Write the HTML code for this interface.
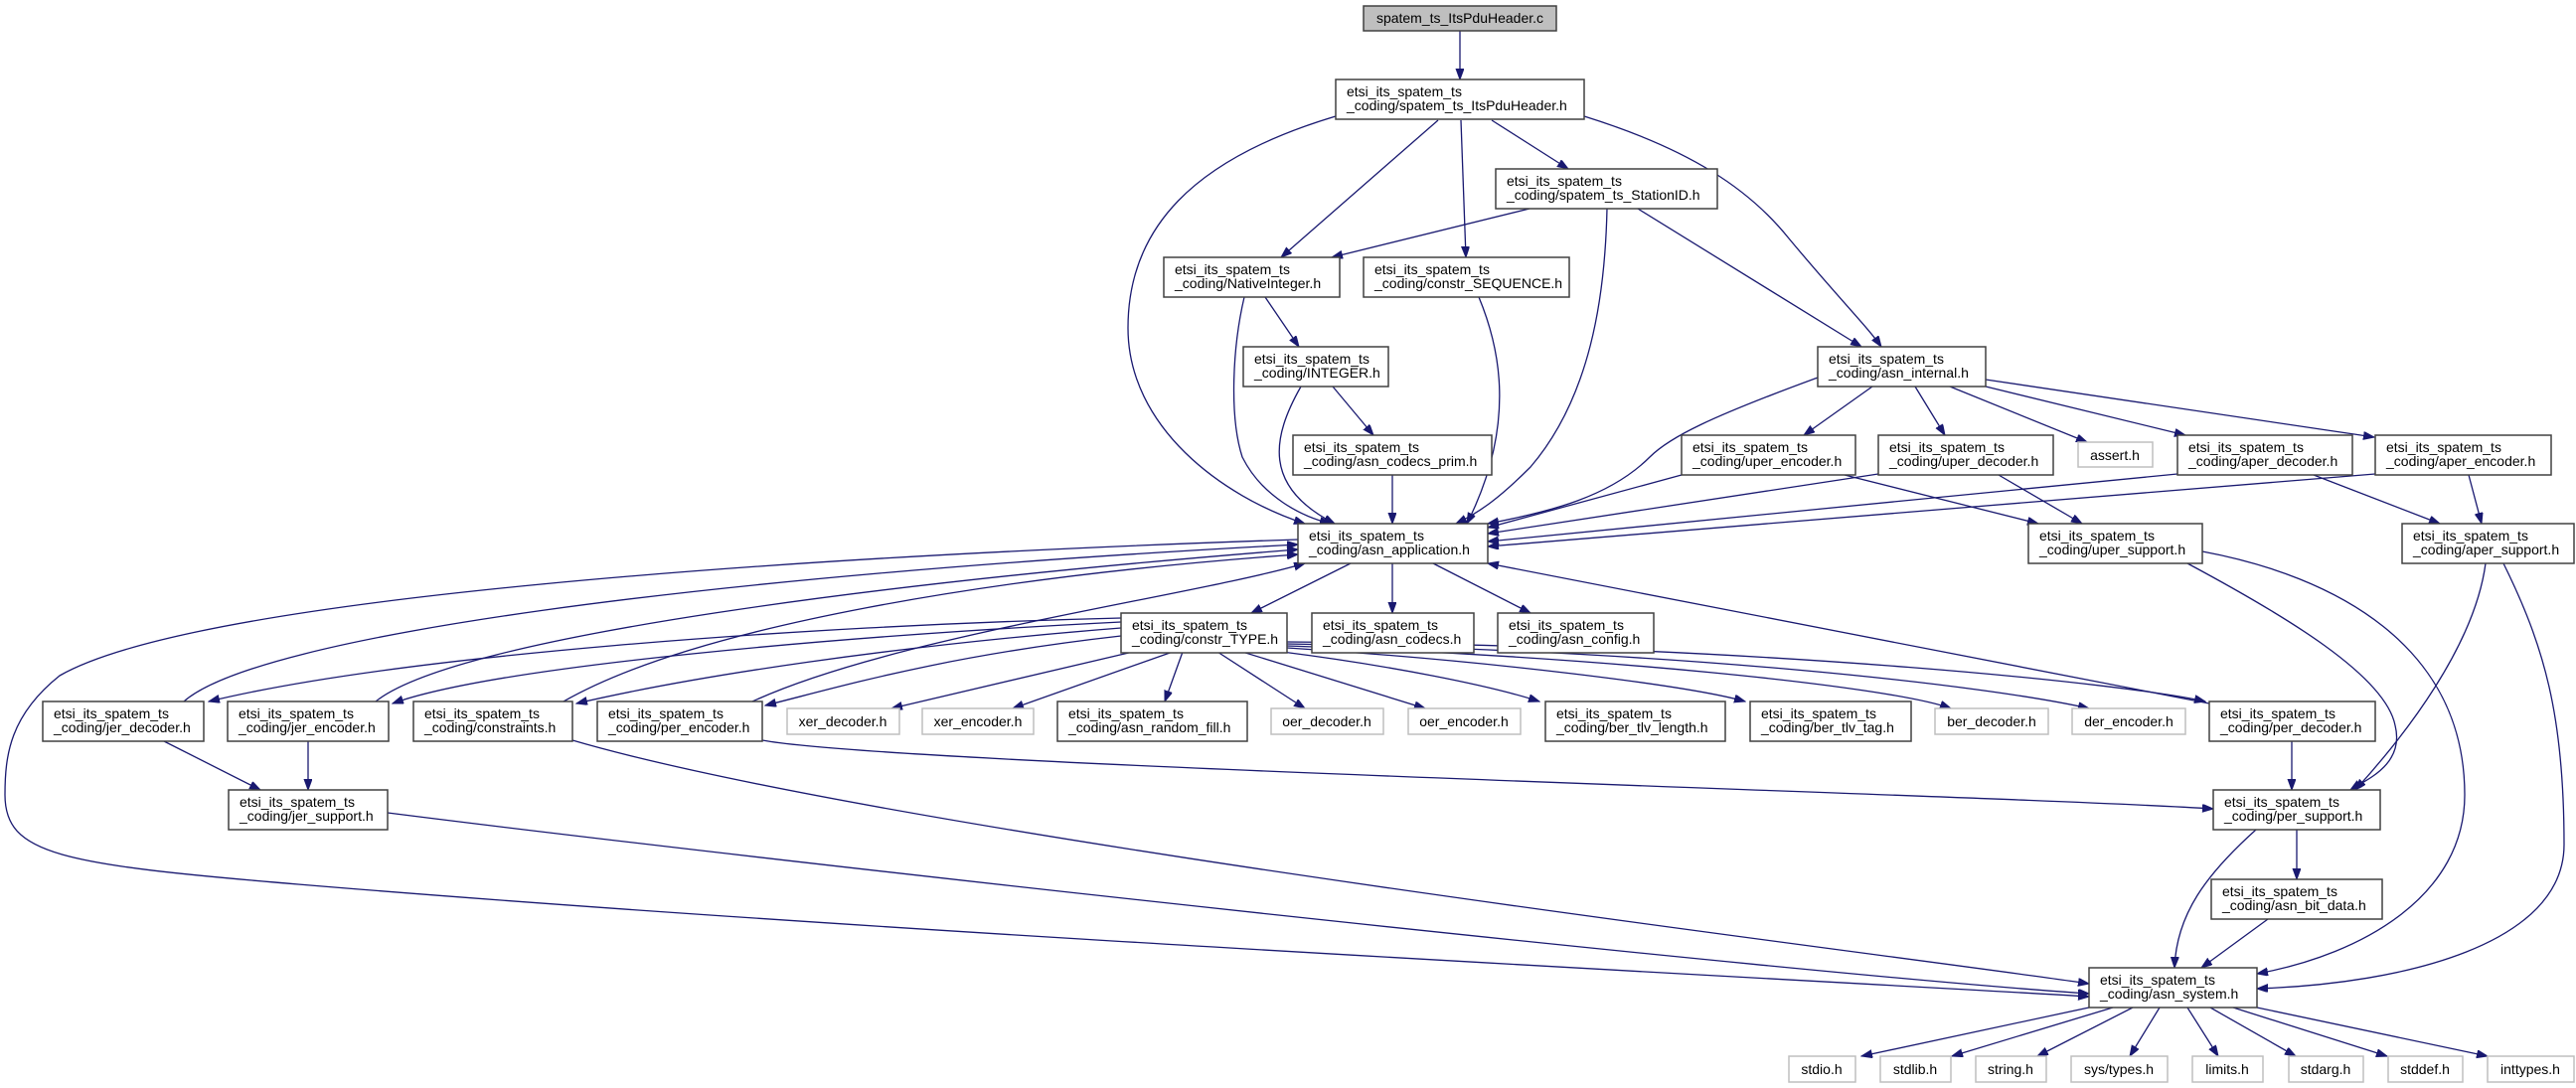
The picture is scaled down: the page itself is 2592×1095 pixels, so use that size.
<!DOCTYPE html>
<html><head><meta charset="utf-8"><style>
html,body{margin:0;padding:0;background:#fff;}
svg{display:block;}
text{font-family:"Liberation Sans",sans-serif;font-size:14px;fill:#000;}
.b{fill:#fff;stroke:#404040;stroke-width:1.5;}
.g{fill:#fff;stroke:#bfbfbf;stroke-width:1.5;}
.e{fill:none;stroke:#191970;stroke-width:1.3;}
</style></head><body>
<svg width="2592" height="1095" viewBox="0 0 2592 1095" xmlns="http://www.w3.org/2000/svg">
<defs><marker id="a" markerWidth="12" markerHeight="9" refX="11" refY="4" orient="auto" markerUnits="userSpaceOnUse"><path d="M0,0 L11,4 L0,8 z" fill="#191970" stroke="#191970"/></marker></defs>
<g class="e" marker-end="url(#a)">
<path d="M1469,31 L1469,80"/>
<path d="M1344,117 C1200,160 1135,230 1135,330 C1135,430 1230,500 1313,527"/>
<path d="M1447,121 L1289,259"/>
<path d="M1470,121 L1475,259"/>
<path d="M1501,121 L1578,170"/>
<path d="M1594,117 C1700,150 1760,190 1800,240 C1850,300 1880,330 1893,349"/>
<path d="M1539,210 L1340,259"/>
<path d="M1617,210 C1615,300 1600,400 1540,470 C1510,500 1490,515 1465,527"/>
<path d="M1648,210 L1873,349"/>
<path d="M1273,299 L1307,349"/>
<path d="M1252,299 C1240,350 1237,420 1250,460 C1270,500 1310,520 1339,527"/>
<path d="M1488,299 C1505,340 1530,420 1476,527"/>
<path d="M1341,389 L1382,438"/>
<path d="M1309,389 C1280,440 1270,490 1343,527"/>
<path d="M1401,478 L1401,527"/>
<path d="M1829,380 C1720,420 1680,440 1660,460 C1620,500 1560,515 1497,527"/>
<path d="M1884,389 L1815,438"/>
<path d="M1927,389 L1957,438"/>
<path d="M1962,389 L2100,445"/>
<path d="M1998,389 L2199,438"/>
<path d="M1998,382 L2389,440"/>
<path d="M1692,478 L1497,531"/>
<path d="M1890,477 L1497,537"/>
<path d="M2191,477 L1497,545"/>
<path d="M2390,477 L1497,550"/>
<path d="M1856,478 L2051,527"/>
<path d="M2011,478 L2095,527"/>
<path d="M2328,478 L2455,527"/>
<path d="M2484,478 L2497,527"/>
<path d="M2201,567 C2300,620 2400,680 2410,730 C2420,770 2380,785 2365,795"/>
<path d="M2216,555 C2350,580 2480,650 2480,800 C2480,900 2380,960 2271,980"/>
<path d="M2501,567 C2490,650 2420,740 2370,795"/>
<path d="M2519,567 C2560,650 2580,720 2580,850 C2580,950 2420,990 2271,995"/>
<path d="M2223,708 L1497,567"/>
<path d="M2306,746 L2306,795"/>
<path d="M2311,835 L2311,885"/>
<path d="M2270,835 C2220,880 2190,920 2188,974"/>
<path d="M2282,925 L2215,974"/>
<path d="M2102,1014 L1873,1063"/>
<path d="M2126,1014 L1964,1063"/>
<path d="M2146,1014 L2050,1063"/>
<path d="M2173,1014 L2143,1063"/>
<path d="M2201,1014 L2232,1063"/>
<path d="M2224,1014 L2310,1063"/>
<path d="M2247,1014 L2402,1063"/>
<path d="M2271,1014 L2503,1063"/>
<path d="M1359,567 L1259,617"/>
<path d="M1401,567 L1401,617"/>
<path d="M1442,567 L1540,617"/>
<path d="M1306,543 C800,560 200,600 60,680 C10,720 5,760 5,800 C5,860 60,870 300,890 C900,940 1800,985 2102,1003"/>
<path d="M1128,622 C800,630 400,660 210,706"/>
<path d="M1128,626 C850,640 500,670 395,708"/>
<path d="M1128,632 C900,650 700,680 580,708"/>
<path d="M1128,640 C950,660 850,690 770,710"/>
<path d="M1140,656 L897,713"/>
<path d="M1180,656 L1019,713"/>
<path d="M1190,656 L1172,706"/>
<path d="M1225,656 L1313,713"/>
<path d="M1250,656 L1434,713"/>
<path d="M1290,656 C1400,670 1500,690 1549,706"/>
<path d="M1295,652 C1500,665 1700,690 1756,706"/>
<path d="M1295,650 C1600,660 1900,690 1963,713"/>
<path d="M1295,648 C1700,655 2000,690 2102,713"/>
<path d="M1295,646 C1800,650 2150,690 2219,706"/>
<path d="M185,706 C260,640 700,580 1306,548"/>
<path d="M378,706 C460,640 900,585 1306,553"/>
<path d="M567,706 C700,630 1000,580 1306,558"/>
<path d="M757,706 C900,640 1200,600 1313,567"/>
<path d="M165,746 L262,795"/>
<path d="M310,746 L310,795"/>
<path d="M390,818 C800,870 1800,980 2102,1000"/>
<path d="M576,745 C900,840 1900,960 2102,990"/>
<path d="M767,745 C900,770 2000,800 2227,814"/>
</g>
<!-- root -->
<rect x="1372" y="6" width="194" height="25" fill="#bfbfbf" stroke="#404040" stroke-width="1.5"/>
<text x="1469" y="23" text-anchor="middle">spatem_ts_ItsPduHeader.c</text>
<!-- two-line boxes -->
<g>
<rect class="b" x="1344" y="80" width="250" height="40"/><text x="1355" y="97">etsi_its_spatem_ts</text><text x="1355" y="111">_coding/spatem_ts_ItsPduHeader.h</text>
<rect class="b" x="1505" y="170" width="223" height="40"/><text x="1516" y="187">etsi_its_spatem_ts</text><text x="1516" y="201">_coding/spatem_ts_StationID.h</text>
<rect class="b" x="1171" y="259" width="177" height="40"/><text x="1182" y="276">etsi_its_spatem_ts</text><text x="1182" y="290">_coding/NativeInteger.h</text>
<rect class="b" x="1372" y="259" width="207" height="40"/><text x="1383" y="276">etsi_its_spatem_ts</text><text x="1383" y="290">_coding/constr_SEQUENCE.h</text>
<rect class="b" x="1251" y="349" width="146" height="40"/><text x="1262" y="366">etsi_its_spatem_ts</text><text x="1262" y="380">_coding/INTEGER.h</text>
<rect class="b" x="1829" y="349" width="169" height="40"/><text x="1840" y="366">etsi_its_spatem_ts</text><text x="1840" y="380">_coding/asn_internal.h</text>
<rect class="b" x="1301" y="438" width="200" height="40"/><text x="1312" y="455">etsi_its_spatem_ts</text><text x="1312" y="469">_coding/asn_codecs_prim.h</text>
<rect class="b" x="1692" y="438" width="175" height="40"/><text x="1703" y="455">etsi_its_spatem_ts</text><text x="1703" y="469">_coding/uper_encoder.h</text>
<rect class="b" x="1890" y="438" width="176" height="40"/><text x="1901" y="455">etsi_its_spatem_ts</text><text x="1901" y="469">_coding/uper_decoder.h</text>
<rect class="b" x="2191" y="438" width="176" height="40"/><text x="2202" y="455">etsi_its_spatem_ts</text><text x="2202" y="469">_coding/aper_decoder.h</text>
<rect class="b" x="2390" y="438" width="177" height="40"/><text x="2401" y="455">etsi_its_spatem_ts</text><text x="2401" y="469">_coding/aper_encoder.h</text>
<rect class="b" x="1306" y="527" width="191" height="40"/><text x="1317" y="544">etsi_its_spatem_ts</text><text x="1317" y="558">_coding/asn_application.h</text>
<rect class="b" x="2041" y="527" width="175" height="40"/><text x="2052" y="544">etsi_its_spatem_ts</text><text x="2052" y="558">_coding/uper_support.h</text>
<rect class="b" x="2417" y="527" width="173" height="40"/><text x="2428" y="544">etsi_its_spatem_ts</text><text x="2428" y="558">_coding/aper_support.h</text>
<rect class="b" x="1128" y="617" width="167" height="40"/><text x="1139" y="634">etsi_its_spatem_ts</text><text x="1139" y="648">_coding/constr_TYPE.h</text>
<rect class="b" x="1320" y="617" width="163" height="40"/><text x="1331" y="634">etsi_its_spatem_ts</text><text x="1331" y="648">_coding/asn_codecs.h</text>
<rect class="b" x="1507" y="617" width="157" height="40"/><text x="1518" y="634">etsi_its_spatem_ts</text><text x="1518" y="648">_coding/asn_config.h</text>
<rect class="b" x="43" y="706" width="162" height="40"/><text x="54" y="723">etsi_its_spatem_ts</text><text x="54" y="737">_coding/jer_decoder.h</text>
<rect class="b" x="229" y="706" width="162" height="40"/><text x="240" y="723">etsi_its_spatem_ts</text><text x="240" y="737">_coding/jer_encoder.h</text>
<rect class="b" x="416" y="706" width="160" height="40"/><text x="427" y="723">etsi_its_spatem_ts</text><text x="427" y="737">_coding/constraints.h</text>
<rect class="b" x="601" y="706" width="166" height="40"/><text x="612" y="723">etsi_its_spatem_ts</text><text x="612" y="737">_coding/per_encoder.h</text>
<rect class="b" x="1064" y="706" width="191" height="40"/><text x="1075" y="723">etsi_its_spatem_ts</text><text x="1075" y="737">_coding/asn_random_fill.h</text>
<rect class="b" x="1555" y="706" width="181" height="40"/><text x="1566" y="723">etsi_its_spatem_ts</text><text x="1566" y="737">_coding/ber_tlv_length.h</text>
<rect class="b" x="1761" y="706" width="162" height="40"/><text x="1772" y="723">etsi_its_spatem_ts</text><text x="1772" y="737">_coding/ber_tlv_tag.h</text>
<rect class="b" x="2223" y="706" width="167" height="40"/><text x="2234" y="723">etsi_its_spatem_ts</text><text x="2234" y="737">_coding/per_decoder.h</text>
<rect class="b" x="230" y="795" width="160" height="40"/><text x="241" y="812">etsi_its_spatem_ts</text><text x="241" y="826">_coding/jer_support.h</text>
<rect class="b" x="2227" y="795" width="168" height="40"/><text x="2238" y="812">etsi_its_spatem_ts</text><text x="2238" y="826">_coding/per_support.h</text>
<rect class="b" x="2225" y="885" width="172" height="40"/><text x="2236" y="902">etsi_its_spatem_ts</text><text x="2236" y="916">_coding/asn_bit_data.h</text>
<rect class="b" x="2102" y="974" width="169" height="40"/><text x="2113" y="991">etsi_its_spatem_ts</text><text x="2113" y="1005">_coding/asn_system.h</text>
</g>
<!-- gray single-line boxes -->
<g text-anchor="middle">
<rect class="g" x="2091" y="445" width="75" height="25"/><text x="2128" y="463">assert.h</text>
<rect class="g" x="792" y="713" width="113" height="26"/><text x="848" y="731">xer_decoder.h</text>
<rect class="g" x="928" y="713" width="112" height="26"/><text x="984" y="731">xer_encoder.h</text>
<rect class="g" x="1279" y="713" width="113" height="26"/><text x="1335" y="731">oer_decoder.h</text>
<rect class="g" x="1417" y="713" width="113" height="26"/><text x="1473" y="731">oer_encoder.h</text>
<rect class="g" x="1947" y="713" width="114" height="26"/><text x="2004" y="731">ber_decoder.h</text>
<rect class="g" x="2085" y="713" width="114" height="26"/><text x="2142" y="731">der_encoder.h</text>
<rect class="g" x="1800" y="1063" width="67" height="26"/><text x="1833" y="1081">stdio.h</text>
<rect class="g" x="1892" y="1063" width="71" height="26"/><text x="1927" y="1081">stdlib.h</text>
<rect class="g" x="1988" y="1063" width="71" height="26"/><text x="2023" y="1081">string.h</text>
<rect class="g" x="2084" y="1063" width="97" height="26"/><text x="2132" y="1081">sys/types.h</text>
<rect class="g" x="2206" y="1063" width="71" height="26"/><text x="2241" y="1081">limits.h</text>
<rect class="g" x="2303" y="1063" width="75" height="26"/><text x="2340" y="1081">stdarg.h</text>
<rect class="g" x="2403" y="1063" width="75" height="26"/><text x="2440" y="1081">stddef.h</text>
<rect class="g" x="2503" y="1063" width="87" height="26"/><text x="2546" y="1081">inttypes.h</text>
</g>
</svg>
</body></html>
